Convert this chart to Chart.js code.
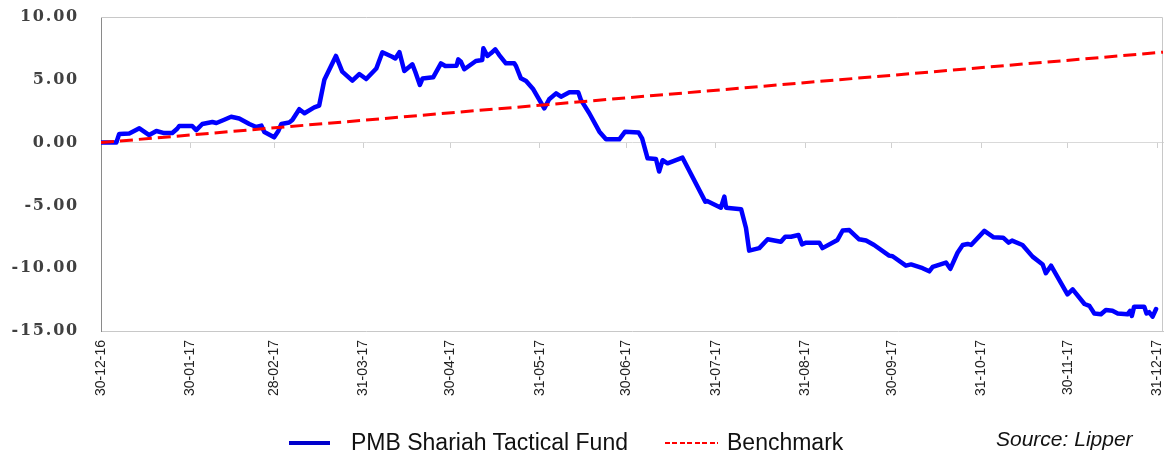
<!DOCTYPE html>
<html>
<head>
<meta charset="utf-8">
<script src="https://cdn.jsdelivr.net/npm/chart.js@4.4.1/dist/chart.umd.min.js"></script>
<style>
  html, body { margin: 0; padding: 0; background: #fff; }
  #wrap { position: relative; width: 1175px; height: 455px; overflow: hidden; }
  #chart { position: absolute; left: 0; top: 0; }
  .lg { position: absolute; font-family: "Liberation Sans", Arial, sans-serif; font-size: 23px; line-height: 23px; color: #111; white-space: nowrap; }
  .sw-fund { position: absolute; left: 289px; top: 441px; width: 41px; height: 4px; background: #0000cc; }
  .sw-bench { position: absolute; left: 665px; top: 442px; width: 53px; height: 2px;
    background: repeating-linear-gradient(90deg, #ff0000 0 5px, transparent 5px 7.5px); }
  .source { position: absolute; left: 996px; top: 428px; font-family: "Liberation Sans", Arial, sans-serif;
    font-style: italic; font-size: 21px; line-height: 21px; color: #111; }
</style>
</head>
<body>
<div id="wrap">
  <canvas id="chart" width="1175" height="455"></canvas>
  <div class="sw-fund"></div>
  <div class="lg" style="left:351px; top:431px;">PMB Shariah Tactical Fund</div>
  <div class="sw-bench"></div>
  <div class="lg" style="left:727px; top:431px;">Benchmark</div>
  <div class="source">Source: Lipper</div>
</div>
<script>
/* PMB Shariah Tactical Fund vs benchmark, cumulative % (days from 30-12-16) */

const tickDays = [0, 31, 60, 91, 121, 152, 182, 213, 244, 274, 305, 335, 366];
const tickLabels = ['30-12-16', '30-01-17', '28-02-17', '31-03-17', '30-04-17', '31-05-17',
  '30-06-17', '31-07-17', '31-08-17', '30-09-17', '31-10-17', '30-11-17', '31-12-17'];
const yTicks = [-15, -10, -5, 0, 5, 10];

const fundDays = [
  0, 5.3, 6.3, 9.8, 13.3, 16.7, 19.2, 21.9, 24.7, 26.4, 27.1, 31.6, 33.0, 35.1, 38.6, 40.0,
  42.7, 45.1, 47.9, 51.4, 53.8, 55.6, 56.6, 60.0, 61.5, 62.5, 65.2, 66.3, 68.7, 70.5, 73.9,
  75.6, 77.4, 81.4, 83.6, 87.1, 89.5, 91.9, 95.4, 97.5, 100.9, 102.0, 103.4, 105.1, 107.9,
  108.9, 110.5, 111.4, 115.1, 117.8, 119.3, 123.2, 123.8, 124.7, 125.9, 129.9, 132.1, 132.5,
  133.9, 135.1, 136.6, 138.0, 140.3, 143.2, 143.8, 145.5, 147.3, 149.8, 151.6, 153.6, 155.3,
  157.7, 159.4, 162.3, 165.4, 166.3, 169.2, 172.7, 175.0, 179.6, 181.6, 186.3, 187.5, 189.4,
  192.3, 193.4, 194.6, 196.3, 201.5, 209.4, 210.0, 214.8, 216.0, 216.6, 221.8, 223.5, 224.6,
  228.1, 231.0, 235.6, 237.1, 239.1, 241.7, 242.9, 244.3, 248.9, 250.0, 255.2, 257.0, 259.3,
  262.7, 265.1, 267.9, 273.1, 274.3, 278.9, 280.7, 284.7, 287.0, 288.2, 292.8, 294.3, 296.8,
  298.6, 300.3, 301.5, 306.1, 309.3, 312.6, 314.5, 315.7, 319.3, 322.8, 326.3, 327.4, 329.2,
  334.9, 336.7, 340.8, 342.5, 344.2, 346.5, 348.2, 350.5, 352.3, 355.7, 356.6, 357.2, 358.0,
  361.5, 362.3, 363.2, 364.4, 365.6
];
const fundValues = [
  0, 0, 0.69, 0.72, 1.14, 0.60, 0.92, 0.76, 0.76, 1.10, 1.32, 1.32, 0.99, 1.48, 1.64, 1.56,
  1.82, 2.06, 1.92, 1.48, 1.24, 1.35, 0.84, 0.42, 0.95, 1.48, 1.60, 1.80, 2.66, 2.34, 2.80,
  2.95, 5.00, 6.90, 5.65, 4.93, 5.46, 5.06, 5.90, 7.19, 6.84, 6.70, 7.20, 5.70, 6.23,
  5.64, 4.59, 5.10, 5.20, 6.31, 6.10, 6.12, 6.63, 6.44, 5.84, 6.50, 6.58, 7.51,
  6.90, 7.11, 7.43, 6.97, 6.31, 6.31, 6.10, 5.12, 4.90, 4.24, 3.53, 2.73, 3.45,
  3.92, 3.66, 4.00, 4.00, 3.40, 2.34, 0.87, 0.26, 0.26, 0.87, 0.80, 0.34, -1.25,
  -1.30, -2.30, -1.40, -1.65, -1.20, -4.70, -4.65, -5.18, -4.30, -5.18, -5.30, -6.80, -8.60,
  -8.40, -7.70, -7.90, -7.50, -7.50, -7.36, -8.10, -7.97, -7.97, -8.40, -7.75, -7.00, -6.96,
  -7.70, -7.80, -8.15, -9.00, -9.05, -9.80, -9.70, -10.00, -10.25, -9.90, -9.55, -10.05, -8.77,
  -8.15, -8.07, -8.15, -7.03, -7.54, -7.57, -7.97, -7.80, -8.15, -9.08, -9.70, -10.40, -9.80,
  -12.08, -11.68, -12.85, -13.00, -13.60, -13.67, -13.33, -13.39, -13.60, -13.67, -13.40, -13.80, -13.06,
  -13.06, -13.60, -13.50, -13.86, -13.25
];

const benchDays = [0, 368];
const benchValues = [0, 7.2];

const X_MAX = 368;

const setTicks = (vals) => (s) => { s.ticks = vals.map((v) => ({ value: v })); };

/* ---- Plugin: light frame on top and right of the plot ---- */
const framePlugin = {
  id: 'frame',
  beforeDatasetsDraw(chart) {
    const { ctx, chartArea: a } = chart;
    ctx.save();
    ctx.strokeStyle = '#c8c8c8';
    ctx.lineWidth = 1;
    ctx.beginPath();
    ctx.moveTo(a.left, a.top + 0.5);
    ctx.lineTo(a.right - 0.5, a.top + 0.5);
    ctx.lineTo(a.right - 0.5, a.bottom);
    ctx.stroke();
    ctx.restore();
  },
};

/* ---- Plugin: wider letter spacing on the y-axis labels only ---- */
const ySpacingPlugin = {
  id: 'ySpacing',
  afterLayout(chart) {
    const s = chart.scales.y;
    if (!s || s._spaced) return;
    const orig = s.drawLabels.bind(s);
    s.drawLabels = (area) => {
      chart.ctx.letterSpacing = '1.8px';
      orig(area);
      chart.ctx.letterSpacing = '0px';
    };
    s._spaced = true;
  },
};

new Chart(document.getElementById('chart'), {
  type: 'line',
  data: {
    datasets: [
      {
        label: 'Benchmark',
        data: benchDays.map((d, i) => ({ x: d, y: benchValues[i] })),
        borderColor: '#ff0000', borderWidth: 3, borderDash: [13, 6],
        pointRadius: 0, tension: 0,
      },
      {
        label: 'PMB Shariah Tactical Fund',
        data: fundDays.map((d, i) => ({ x: d, y: fundValues[i] })),
        borderColor: '#0000ff', borderWidth: 4.5,
        borderJoinStyle: 'round', borderCapStyle: 'round',
        pointRadius: 0, tension: 0,
      },
    ],
  },
  options: {
    responsive: false, animation: false, events: [],
    layout: { padding: { top: 17, right: 12, bottom: 0, left: 0 } },
    plugins: { legend: { display: false }, tooltip: { enabled: false } },
    scales: {
      x: {
        type: 'linear', min: 0, max: X_MAX,
        afterBuildTicks: setTicks(tickDays),
        afterFit: (s) => { s.height = 124; s.paddingLeft = 0; s.paddingRight = 0; },
        ticks: {
          autoSkip: false, minRotation: 90, maxRotation: 90, padding: 1,
          color: '#222', font: { family: '"Liberation Sans", Arial, sans-serif', size: 14 },
          callback: (v) => tickLabels[tickDays.indexOf(v)],
        },
        grid: { display: false },
        border: { display: true, color: '#c8c8c8' },
      },
      x2: {
        type: 'linear', min: 0, max: X_MAX, position: { y: 0 },
        afterBuildTicks: setTicks(tickDays),
        afterFit: (s) => { s.height = 0; s.paddingLeft = 0; s.paddingRight = 0; },
        ticks: { display: false },
        grid: { drawOnChartArea: false, drawTicks: true, tickLength: 5, color: '#d0d0d0' },
        border: { display: true, color: '#d9d9d9' },
      },
      y: {
        min: -15, max: 10,
        afterBuildTicks: setTicks(yTicks),
        afterFit: (s) => { s.width = 101; s.paddingTop = 0; s.paddingBottom = 0; },
        ticks: {
          padding: 22, color: '#404040',
          font: { family: '"DejaVu Serif", serif', size: 16, weight: 'bold' },
          callback: (v) => v.toFixed(2),
        },
        grid: { display: false, drawTicks: false },
        border: { display: true, color: '#8a8a8a' },
      },
    },
  },
  plugins: [framePlugin, ySpacingPlugin],
});
</script>
</body>
</html>
